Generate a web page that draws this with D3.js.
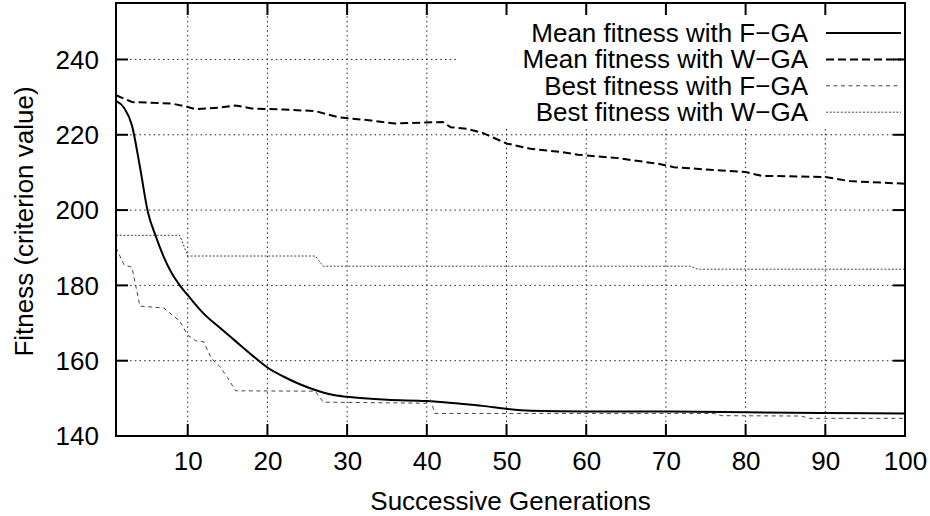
<!DOCTYPE html>
<html>
<head>
<meta charset="utf-8">
<script src="https://cdn.jsdelivr.net/npm/d3@7"></script>
<style>
  body { margin: 0; background: #fff; }
  svg { display: block; font-family: "Liberation Sans", Arial, Helvetica, sans-serif; }
</style>
</head>
<body>
<svg id="chart" width="930" height="516"></svg>
<script>
// series as [generation, fitness] pairs
const meanFGA = [[1,229.0],[2,227.2],[3,222.5],[4,211.5],[5,199.5],[6,193],[7,187.5],[8,183.2],[9,180],[10,177.4],
  [12,172.5],[14,168.8],[16,165.2],[18,161.6],[20,158.2],[22,155.8],[24,153.8],[26,152.2],[28,151],[30,150.4],
  [35,149.6],[40,149.3],[44,148.6],[47,148],[50,147.2],[53,146.7],[60,146.5],[70,146.5],[80,146.3],[90,146.1],[100,146.0]];
const meanWGA = [[1,230.5],[3,228.7],[8,228.3],[10,227.4],[11,226.8],[14,227.2],[16,227.8],[18,227],[22,226.7],[26,226.3],
  [29,224.6],[33,223.8],[36,223],[42,223.4],[43,222],[45,221.6],[47,220.5],[50,217.7],[53,216.3],[57,215.4],[59,214.7],
  [64,213.8],[69,212.3],[71,211.4],[75,210.8],[80,210.1],[82,209.1],[90,208.8],[93,207.7],[100,207.0]];
const bestFGA = [[1,190],[2,185.5],[3,184.8],[4,174.5],[7,174],[9,170.5],[10,166.8],[11,165.3],[12,165],[13,160.5],
  [14,158.5],[15,155.5],[16,152],[26,151.9],[27,149],[40,148.7],[40.5,149.6],[41,146],[76,146],[77,145.4],
  [87,145.3],[88,144.7],[100,144.7]];
const bestWGA = [[1,193.3],[9,193.3],[10,187.8],[26,187.8],[27,185.1],[73,185.1],[74,184.3],[100,184.3]];

const xTicks = [10,20,30,40,50,60,70,80,90,100];
const yTicks = [140,160,180,200,220,240];
const legendLabels = ["Mean fitness with F\u2212GA","Mean fitness with W\u2212GA","Best fitness with F\u2212GA","Best fitness with W\u2212GA"];

const svg = d3.select("#chart");
const pL = 116, pR = 905, pT = 3, pB = 436;
const fs = 26;

const x = d3.scaleLinear().domain([1, 100]).range([pL, pR]);
const y = d3.scaleLinear().domain([140, 255]).range([pB, pT]);

// grid
const grid = svg.append("g").attr("stroke", "#222").attr("stroke-width", 1).attr("stroke-dasharray", "1.5,3.2");
grid.selectAll(".gx").data(xTicks.slice(0, -1)).join("line")
  .attr("x1", d => x(d)).attr("x2", d => x(d)).attr("y1", pB).attr("y2", pT);
grid.selectAll(".gy").data(yTicks.slice(1)).join("line")
  .attr("x1", pL).attr("x2", pR).attr("y1", d => y(d)).attr("y2", d => y(d));

// opaque key box
svg.append("rect").attr("x", 459).attr("y", pT).attr("width", pR - 459).attr("height", 124).attr("fill", "#fff");

// lines
const styles = [
  { data: meanFGA, stroke: "#000", width: 2, dash: null, curve: d3.curveMonotoneX },
  { data: meanWGA, stroke: "#000", width: 2, dash: "8,4", curve: d3.curveLinear },
  { data: bestFGA, stroke: "#444", width: 1, dash: "4,3.5", curve: d3.curveLinear },
  { data: bestWGA, stroke: "#444", width: 1, dash: "2,1.7", curve: d3.curveLinear }
];
styles.forEach(s => {
  const line = d3.line().x(d => x(d[0])).y(d => y(d[1])).curve(s.curve);
  svg.append("path").datum(s.data).attr("d", line)
    .attr("fill", "none").attr("stroke", s.stroke).attr("stroke-width", s.width)
    .attr("stroke-dasharray", s.dash);
});

// tick labels from d3 axes (tick marks drawn by hand below)
const axB = svg.append("g").attr("transform", `translate(0,${pB})`)
  .call(d3.axisBottom(x).tickValues(xTicks).tickSize(0).tickPadding(22));
const axL = svg.append("g").attr("transform", `translate(${pL},0)`)
  .call(d3.axisLeft(y).tickValues(yTicks).tickSize(0).tickPadding(17));
[axB, axL].forEach(a => {
  a.select(".domain").remove();
  a.selectAll(".tick line").remove();
  a.selectAll("text").attr("font-size", fs).attr("font-family", null).attr("fill", "#000");
});
axB.selectAll("text").attr("dy", null).attr("y", 34);
axL.selectAll("text").attr("dy", "0.34em");

// inward ticks on all four sides
const tl = 12;
const ticks = svg.append("g").attr("stroke", "#000").attr("stroke-width", 2);
ticks.selectAll(".tb").data(xTicks).join("line")
  .attr("x1", d => x(d)).attr("x2", d => x(d)).attr("y1", pB).attr("y2", pB - tl);
ticks.selectAll(".tt").data(xTicks).join("line")
  .attr("x1", d => x(d)).attr("x2", d => x(d)).attr("y1", pT).attr("y2", pT + tl);
ticks.selectAll(".tl").data(yTicks).join("line")
  .attr("x1", pL).attr("x2", pL + tl).attr("y1", d => y(d)).attr("y2", d => y(d));
ticks.selectAll(".tr").data(yTicks).join("line")
  .attr("x1", pR).attr("x2", pR - tl).attr("y1", d => y(d)).attr("y2", d => y(d));

// border
svg.append("rect").attr("x", pL).attr("y", pT).attr("width", pR - pL).attr("height", pB - pT)
  .attr("fill", "none").attr("stroke", "#000").attr("stroke-width", 2);

// key
const key = svg.append("g");
legendLabels.forEach((t, i) => {
  const by = 42 + i * 26.4;
  key.append("text").attr("x", 808).attr("y", by).attr("text-anchor", "end")
    .attr("font-size", fs).text(t);
  key.append("line").attr("x1", 826).attr("x2", 901).attr("y1", by - 9).attr("y2", by - 9)
    .attr("stroke", styles[i].stroke).attr("stroke-width", styles[i].width)
    .attr("stroke-dasharray", styles[i].dash);
});

// axis titles
svg.append("text").attr("x", (pL + pR) / 2).attr("y", 510).attr("text-anchor", "middle")
  .attr("font-size", fs).text("Successive Generations");
svg.append("text").attr("transform", `translate(33,${(pT + pB) / 2 + 2}) rotate(-90)`)
  .attr("text-anchor", "middle").attr("font-size", fs).text("Fitness (criterion value)");
</script>
</body>
</html>
